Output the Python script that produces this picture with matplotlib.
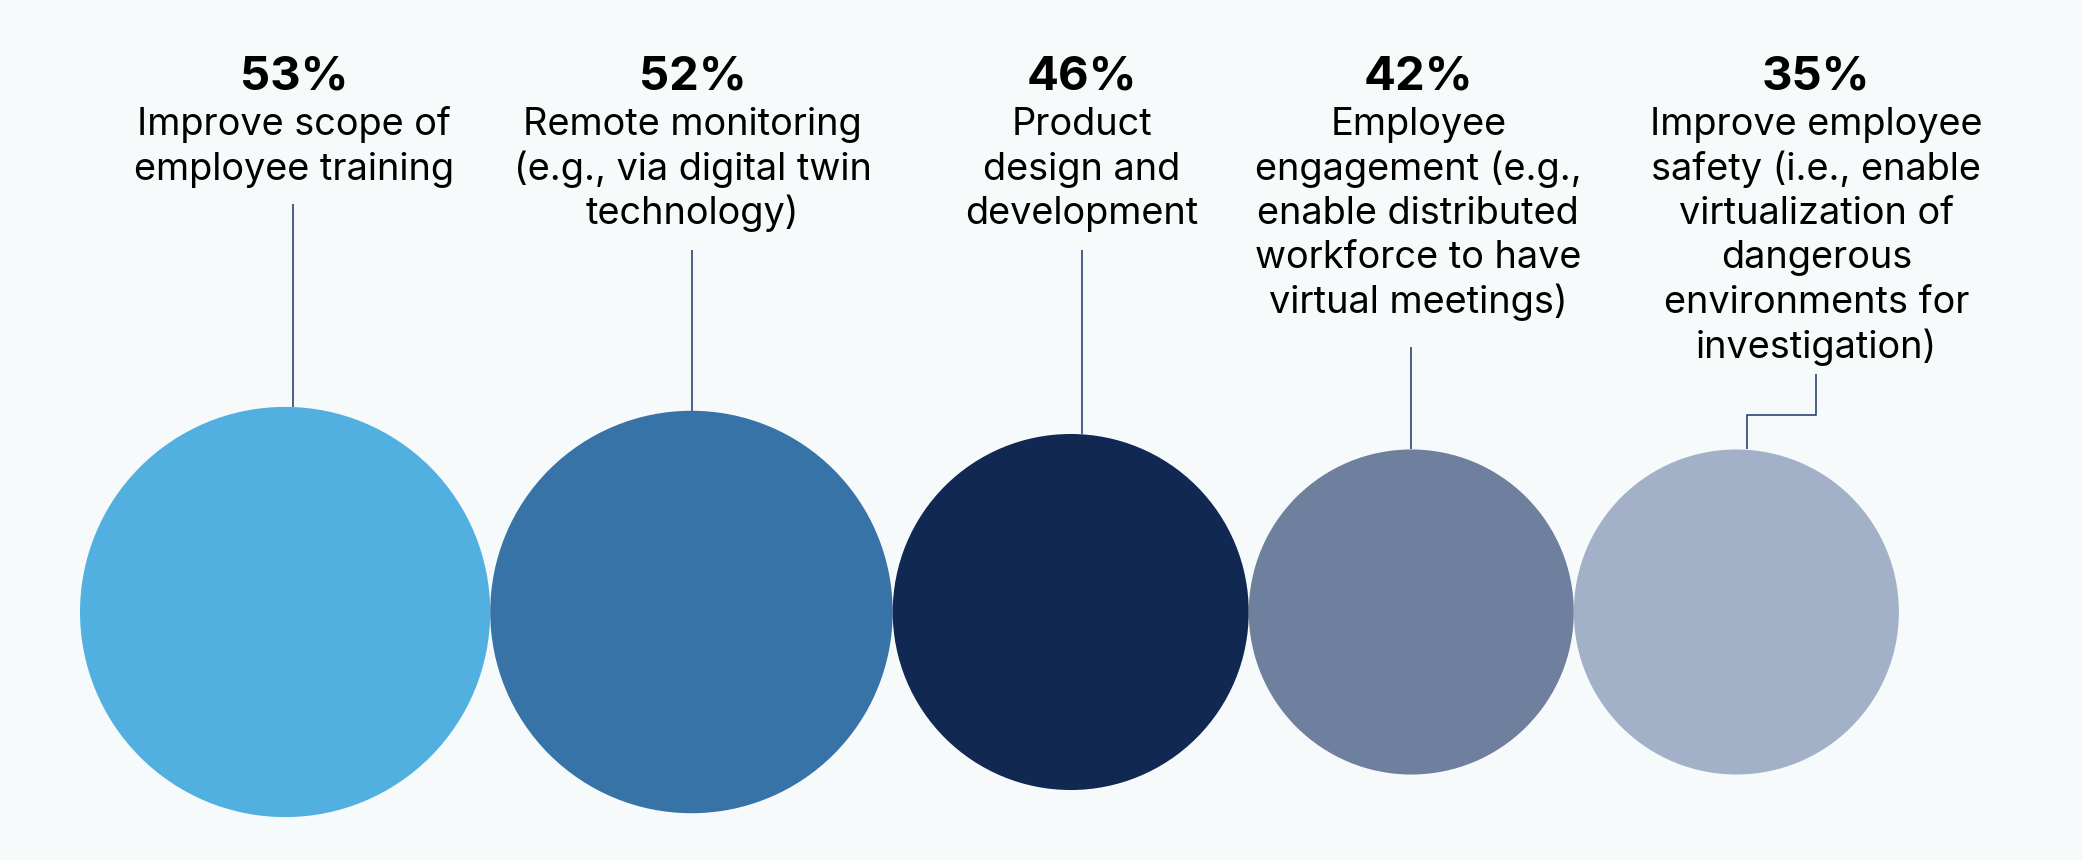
import matplotlib
matplotlib.use("Agg")
import matplotlib.pyplot as plt
from matplotlib.patches import Circle

# ---- data ----
percent_values = [53, 52, 46, 42, 35]
percent_labels = ["53%", "52%", "46%", "42%", "35%"]
# bubble sizes as drawn in the reference (last bubble drawn same size as the 4th)
bubble_sizes = [53, 52, 46, 42, 42]
categories = [
    ["Improve scope of", "employee training"],
    ["Remote monitoring", "(e.g., via digital twin", "technology)"],
    ["Product", "design and", "development"],
    ["Employee", "engagement (e.g.,", "enable distributed", "workforce to have", "virtual meetings)"],
    ["Improve employee", "safety (i.e., enable", "virtualization of", "dangerous",
     "environments for", "investigation)"],
]
colors = ["#52B0E0", "#3873A8", "#112852", "#6F7F9E", "#A2B0C8"]

# ---- layout (pixels) ----
W, H = 2082, 860
bg = "#F6FAFB"
px_per_unit = 3.87
left_edge = 80
center_y = 612
text_dx = [9, 1, 11, 7, 80]          # label centre offset from bubble centre
line_dx = [8, 1, 11, 0, 11]          # leader line offset from bubble centre
elbow = [False, False, False, False, True]
leader_top = [204, 250, 250, 347, 374]
elbow_y = 415
pct_baseline = 89
label_baseline0 = 135
line_gap = 44.5

plt.rcParams['font.family'] = ['Inter', 'DejaVu Sans']
fig = plt.figure(figsize=(W / 100, H / 100), dpi=100)
fig.patch.set_facecolor(bg)
ax = fig.add_axes([0, 0, 1, 1])
ax.set_facecolor(bg)
ax.set_xlim(0, W)
ax.set_ylim(H, 0)
ax.set_aspect('equal')
ax.axis('off')

radii = [s * px_per_unit for s in bubble_sizes]
centers = []
x = left_edge
for i, r in enumerate(radii):
    x = x + r if i == 0 else x + radii[i - 1] + r
    centers.append(x)

line_color = "#1C3566"
lw = 1.1
for i, (cx, r) in enumerate(zip(centers, radii)):
    ax.add_patch(Circle((cx, center_y), r, facecolor=colors[i], edgecolor='none', zorder=2))
    tx = cx + text_dx[i]
    ax.text(tx, pct_baseline, percent_labels[i], ha='center', va='baseline',
            fontsize=34, fontweight='bold', color='#000000', zorder=3)
    for j, line in enumerate(categories[i]):
        ax.text(tx, label_baseline0 + j * line_gap, line, ha='center', va='baseline',
                fontsize=27.3, color='#000000', zorder=3)
    top_y = center_y - r
    lx = cx + line_dx[i]
    if not elbow[i]:
        ax.plot([lx, lx], [leader_top[i], top_y], color=line_color, lw=lw,
                solid_capstyle='butt', zorder=1)
    else:
        ax.plot([tx, tx, lx, lx], [leader_top[i], elbow_y, elbow_y, top_y],
                color=line_color, lw=lw, solid_capstyle='butt',
                solid_joinstyle='miter', zorder=1)

fig.savefig("out.png", dpi=100, facecolor=bg)
